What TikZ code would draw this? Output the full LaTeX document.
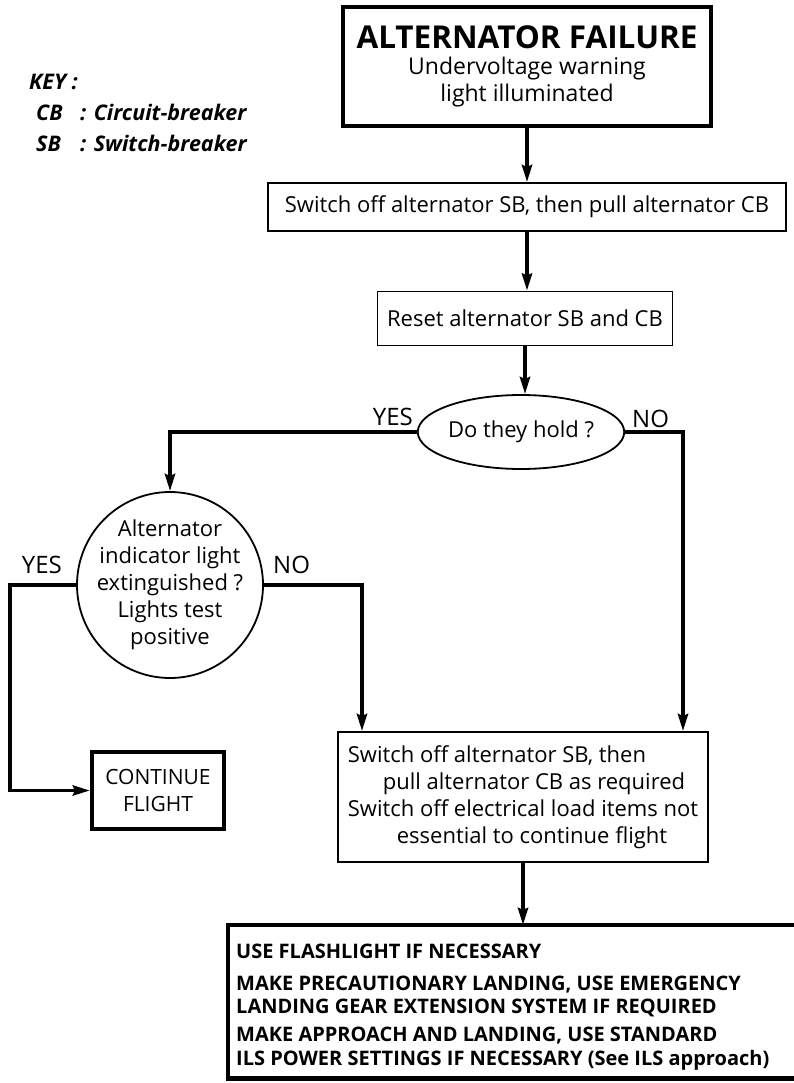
\documentclass[tikz,border=0pt]{standalone}
\usepackage{fontspec}
\setmainfont{Open Sans}
\usetikzlibrary{positioning,arrows.meta,shapes.geometric}
\newcommand{\bodysize}{\fontsize{22}{27}\selectfont}
\newcommand{\titlesize}{\fontsize{31.5}{32}\selectfont}
\newcommand{\keysize}{\fontsize{21.5}{31}\selectfont}
\newcommand{\answersize}{\fontsize{24}{26}\selectfont}
\newcommand{\landsize}{\fontsize{20}{23.5}\selectfont}

\begin{document}
\begin{tikzpicture}[x=1pt,y=-1pt, every node/.style={font=\bodysize, align=center, inner sep=0pt},
  thinbox/.style={draw, line width=1.8pt},
  heavybox/.style={draw, line width=4.2pt},
  link/.style={line width=3.8pt, -{Stealth[length=17pt,width=10pt,inset=2pt]}},
  answer/.style={font=\answersize}]
  \useasboundingbox (0,0) rectangle (794,1083);

  % key
  \node[anchor=base west, align=left, font=\keysize\bfseries\itshape] (key) at (29,152)
    {KEY :\\ \hspace*{7pt}\makebox[44pt][l]{CB}: Circuit-breaker\\ \hspace*{7pt}\makebox[44pt][l]{SB}: Switch-breaker};

  \node[heavybox, minimum width=368pt, minimum height=119pt] (alarm) at (527,66.5)
    {{\titlesize\bfseries ALTERNATOR FAILURE}\\[-1pt] \fontsize{23}{31}\selectfont Undervoltage warning\\ \fontsize{23}{31}\selectfont light illuminated};
  \node[thinbox, minimum width=518pt, minimum height=48pt] (switchoff) at (527,207)
    {Switch off alternator SB, then pull alternator CB};
  \node[thinbox, minimum width=295pt, minimum height=54pt] (reset) at (525,318.5)
    {Reset alternator SB and CB};
  \node[thinbox, ellipse, minimum width=195pt, minimum height=74pt] (hold) at (521,432)
    {Do they hold ?};
  \node[thinbox, circle, minimum size=186pt] (check) at (170,585) {};
  \node (checktext) at (check.center)
    {Alternator\\ indicator light\\ extinguished ?\\ Lights test\\ positive};
  \node[heavybox, minimum width=132pt, minimum height=77pt, font=\fontsize{21}{27}\selectfont] (cont) at (158,790.5)
    {CONTINUE\\ FLIGHT};
  \node[thinbox, minimum width=370pt, minimum height=130pt, align=left] (shed) at (523,797)
    {Switch off alternator SB, then\\ \hspace*{35pt}pull alternator CB as required\\ Switch off electrical load items not\\ \hspace*{49pt}essential to continue flight};
  \node[anchor=north west, minimum width=566pt, minimum height=153pt] (land) at (228,925) {};
  \draw[line width=4.2pt] (land.north east) -- (land.north west) -- (land.south west) -- (land.south east);
  \node[anchor=base west, align=left, font=\landsize\bfseries] (landtext) at (236,1065)
    {USE FLASHLIGHT IF NECESSARY\\[8.5pt]
     MAKE PRECAUTIONARY LANDING, USE EMERGENCY\\ LANDING GEAR EXTENSION SYSTEM IF REQUIRED\\[4.5pt]
     MAKE APPROACH AND LANDING, USE STANDARD\\ ILS POWER SETTINGS IF NECESSARY (See ILS approach)};

  \coordinate (nodrop) at (683,0);
  \coordinate (checkdrop) at (362,0);
  \coordinate (yesdrop) at (10,0);

  \draw[link] (alarm.south) -- (alarm.south |- switchoff.north);
  \draw[link] (switchoff.south) -- (switchoff.south |- reset.north);
  \draw[link] (reset.south) -- (reset.south |- hold.north);
  \draw[link] (hold.west) -| (check.north);
  \draw[link] (hold.east) -| (nodrop |- shed.north);
  \draw[link] (check.east) -| (checkdrop |- shed.north);
  \draw[link] (check.west) -- (check.west -| yesdrop) |- (cont.west);
  \draw[link] (shed.south) -- (shed.south |- land.north);

  \node[answer, anchor=base east] (yesa) at (413,425) {YES};
  \node[answer, anchor=base west] (noa) at (632,427) {NO};
  \node[answer, anchor=base east] (yesb) at (62,573) {YES};
  \node[answer, anchor=base west] (nob) at (273,573) {NO};
\end{tikzpicture}
\end{document}
